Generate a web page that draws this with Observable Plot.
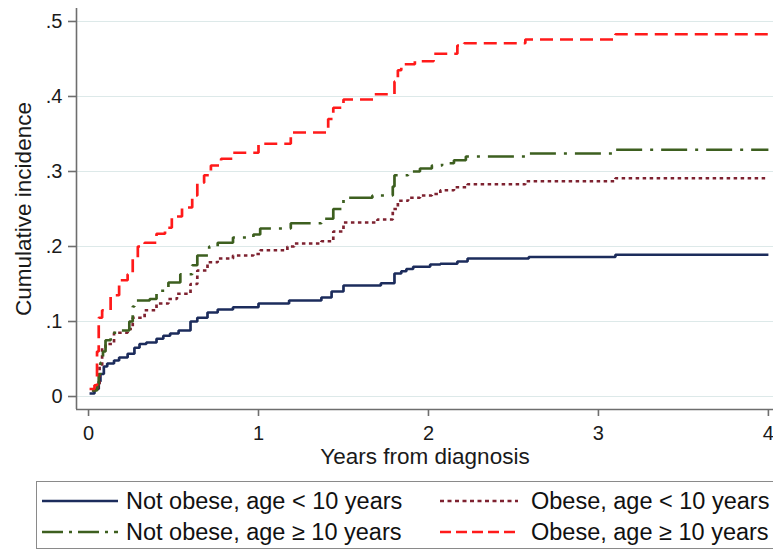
<!DOCTYPE html>
<html>
<head>
<meta charset="utf-8">
<script src="https://cdn.jsdelivr.net/npm/d3@7"></script>
<script src="https://cdn.jsdelivr.net/npm/@observablehq/plot@0.6"></script>
<style>
  html, body { margin: 0; padding: 0; background: #fff; overflow: hidden; }
  body { width: 773px; height: 551px; position: relative; font-family: "Liberation Sans", Arial, sans-serif; }
  #legend { position: absolute; left: 36px; top: 481px; width: 760px; height: 68px; border: 1.5px solid #8a8a8a; box-sizing: border-box; }
  .item { position: absolute; height: 30px; display: flex; align-items: center; }
  .item svg { display: block; }
  .item span { font-size: 23.5px; color: #111; white-space: nowrap; position: absolute; }
</style>
</head>
<body>
<div id="chart"></div>
<div id="legend"></div>
<script>
// ---- data ----
const seriesNames = [
  "Not obese, age < 10 years",
  "Obese, age < 10 years",
  "Not obese, age \u2265 10 years",
  "Obese, age \u2265 10 years"
];
const colors = ["#1c2c5c", "#7e2230", "#3d5f1f", "#ff1a1a"];
const dashes = ["none", "3.5,3.5", "26,8,3,8", "13,7"];
const legendDashes = ["none", "4,3.5", "21,6,3,6", "11,5"];

const navyT = [0.006,0.035,0.06,0.07,0.09,0.11,0.15,0.18,0.23,0.27,0.30,0.34,0.40,0.44,0.48,0.53,0.60,0.64,0.70,0.76,0.85,1.00,1.18,1.37,1.43,1.50,1.72,1.80,1.84,1.87,1.91,2.01,2.07,2.17,2.23,2.59,3.10,4.00];
const navyY = [0.004,0.010,0.020,0.030,0.040,0.044,0.048,0.052,0.057,0.065,0.070,0.072,0.077,0.081,0.084,0.088,0.100,0.105,0.112,0.116,0.119,0.124,0.128,0.132,0.140,0.148,0.151,0.164,0.167,0.170,0.173,0.176,0.177,0.180,0.184,0.186,0.189,0.189];

const maroonT = [0.02,0.05,0.065,0.08,0.10,0.15,0.23,0.26,0.33,0.40,0.47,0.52,0.60,0.64,0.70,0.76,0.85,0.97,1.01,1.17,1.21,1.37,1.44,1.50,1.70,1.79,1.82,1.88,1.95,2.02,2.07,2.15,2.23,2.57,3.10,4.00];
const maroonY = [0.008,0.012,0.040,0.065,0.070,0.085,0.090,0.105,0.115,0.124,0.130,0.137,0.150,0.168,0.179,0.184,0.188,0.190,0.195,0.200,0.204,0.207,0.220,0.232,0.236,0.250,0.261,0.265,0.268,0.270,0.275,0.279,0.283,0.287,0.291,0.291];

const greenT = [0.02,0.05,0.06,0.07,0.085,0.10,0.13,0.17,0.24,0.26,0.27,0.36,0.40,0.47,0.54,0.61,0.64,0.71,0.76,0.85,0.97,1.01,1.19,1.37,1.44,1.50,1.67,1.79,1.80,1.88,1.95,2.02,2.08,2.15,2.22,2.57,3.10,4.00];
const greenY = [0.008,0.015,0.030,0.045,0.060,0.075,0.085,0.088,0.100,0.120,0.128,0.130,0.141,0.152,0.163,0.175,0.188,0.200,0.205,0.212,0.216,0.224,0.231,0.237,0.250,0.265,0.268,0.280,0.295,0.300,0.304,0.308,0.311,0.315,0.320,0.324,0.329,0.329];

const redT = [0.006,0.035,0.05,0.06,0.08,0.13,0.18,0.23,0.26,0.29,0.33,0.40,0.45,0.49,0.55,0.61,0.64,0.68,0.72,0.78,0.85,1.00,1.19,1.41,1.44,1.50,1.68,1.80,1.82,1.84,1.92,2.03,2.17,2.21,2.57,3.10,4.00];
const redY = [0.010,0.015,0.060,0.105,0.115,0.135,0.155,0.163,0.185,0.200,0.205,0.217,0.225,0.240,0.252,0.268,0.285,0.295,0.308,0.317,0.325,0.337,0.352,0.370,0.385,0.396,0.403,0.420,0.435,0.443,0.447,0.457,0.468,0.471,0.476,0.483,0.483];

const xTicks = [0, 1, 2, 3, 4];
const yTicks = [0, 0.1, 0.2, 0.3, 0.4, 0.5];
const xDomain = [-0.0708, 4.03];
const yDomain = [-0.0173, 0.5173];

const allT = [navyT, maroonT, greenT, redT];
const allY = [navyY, maroonY, greenY, redY];

const rows = [];
allT.forEach((ts, i) => ts.forEach((t, j) => rows.push({series: seriesNames[i], t, v: allY[i][j], k: i})));

const fmtY = d => d === 0 ? "0" : d3.format(".1f")(d).replace(/^0/, "");
const fmtX = d3.format("d");
const font = "Liberation Sans, Arial, sans-serif";

const lines = [0, 1, 2, 3].map(i => Plot.line(rows.filter(r => r.k === i), {
  x: "t", y: "v", curve: "step-after",
  stroke: colors[i], strokeWidth: 2.7, strokeDasharray: dashes[i] === "none" ? null : dashes[i],
  strokeLinejoin: "miter", strokeLinecap: "butt"
}));

const chart = Plot.plot({
  width: 773,
  height: 470,
  marginLeft: 76,
  marginRight: 0,
  marginTop: 8,
  marginBottom: 61,
  style: {fontFamily: font, background: "#fff", overflow: "visible"},
  x: {domain: xDomain, ticks: xTicks, label: null},
  y: {domain: yDomain, ticks: yTicks, label: null},
  marks: [
    Plot.gridY(yTicks, {stroke: "#dde9e9", strokeOpacity: 1, strokeWidth: 1}),
    Plot.ruleX([xDomain[0]], {stroke: "#6e6e6e", strokeWidth: 1.6}),
    Plot.ruleY([yDomain[0]], {stroke: "#6e6e6e", strokeWidth: 1.6}),
    Plot.axisY(yTicks, {tickSize: 8, tickPadding: 6, tickFormat: fmtY, fontSize: 20, stroke: "#6e6e6e", strokeWidth: 1.6, fill: "#1a1a1a", label: null}),
    Plot.axisX(xTicks, {tickSize: 7, tickPadding: 9, tickFormat: fmtX, fontSize: 20, stroke: "#6e6e6e", strokeWidth: 1.6, fill: "#1a1a1a", label: null}),
    ...lines,
    Plot.text(["Years from diagnosis"], {frameAnchor: "bottom", dy: 47, fontSize: 22.5, fill: "#1a1a1a", lineAnchor: "middle", textAnchor: "middle"}),
    Plot.text(["Cumulative incidence"], {frameAnchor: "left", dx: -53, rotate: -90, fontSize: 22.5, fill: "#1a1a1a", lineAnchor: "middle", textAnchor: "middle"})
  ]
});
document.getElementById("chart").appendChild(chart);

// ---- legend ----
const legend = document.getElementById("legend");
const pos = [
  {left: 5, top: 4, sw: 76, tx: 89}, {left: 403, top: 4, sw: 78, tx: 494},
  {left: 5, top: 35, sw: 76, tx: 89}, {left: 403, top: 35, sw: 78, tx: 494}
];
[0, 1, 2, 3].forEach((i, p) => {
  const div = document.createElement("div");
  div.className = "item";
  div.style.left = pos[p].left + "px";
  div.style.top = pos[p].top + "px";
  const ns = "http://www.w3.org/2000/svg";
  const svg = document.createElementNS(ns, "svg");
  svg.setAttribute("width", pos[p].sw);
  svg.setAttribute("height", 6);
  const ln = document.createElementNS(ns, "line");
  ln.setAttribute("x1", 0); ln.setAttribute("x2", pos[p].sw);
  ln.setAttribute("y1", 3); ln.setAttribute("y2", 3);
  ln.setAttribute("stroke", colors[i]);
  ln.setAttribute("stroke-width", 2.6);
  if (legendDashes[i] !== "none") ln.setAttribute("stroke-dasharray", legendDashes[i]);
  svg.appendChild(ln);
  const span = document.createElement("span");
  span.textContent = seriesNames[i];
  span.style.left = (pos[p].tx - pos[p].left) + "px";
  div.appendChild(svg);
  div.appendChild(span);
  legend.appendChild(div);
});
</script>
</body>
</html>
